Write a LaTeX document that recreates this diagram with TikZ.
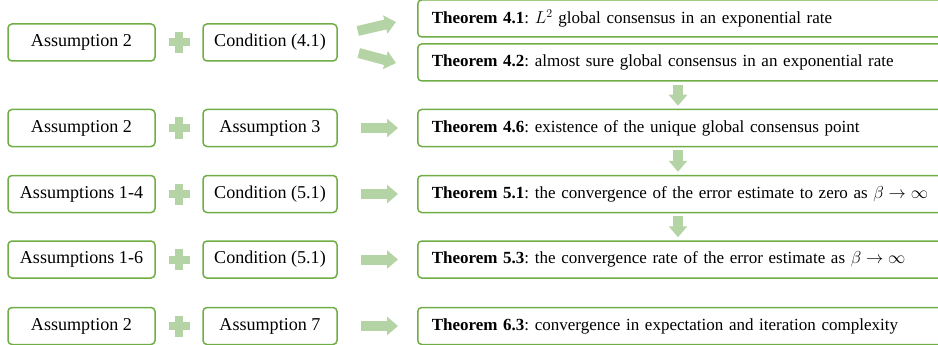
\documentclass[tikz,border=0pt]{standalone}
\usepackage{fontspec}
\setmainfont{Liberation Serif}
\usetikzlibrary{arrows.meta, positioning, calc}
\definecolor{bgreen}{HTML}{70AD47}
\definecolor{bpale}{HTML}{B4D4A6}

\tikzset{
  condbox/.style={draw=bgreen, line width=1.5pt, rounded corners=4pt, minimum height=37pt,
    inner sep=0pt, font=\fontsize{18.1}{20}\selectfont\frenchspacing},
  thmbox/.style={condbox, anchor=west, minimum width=560pt, text width=532pt, align=left, inner xsep=14pt,
    font=\fontsize{17}{20}\selectfont\frenchspacing},
  fatarrow/.style={draw=bpale, line width=10pt, -{Triangle[length=11pt, width=18pt]}},
}
\newcommand{\thm}[2]{\mbox{\textbf{Theorem #1}: #2}}

\begin{document}
\begin{tikzpicture}[x=1pt, y=-1pt]
  \useasboundingbox (0,0) rectangle (938,345);

  %% Left column: assumptions and conditions
  \foreach \r/\y/\la/\lc in {
    1/42.5/{Assumption 2}/{Condition (4.1)},
    2/128/{Assumption 2}/{Assumption 3},
    3/194/{Assumptions 1-4}/{Condition (5.1)},
    4/259.5/{Assumptions 1-6}/{Condition (5.1)},
    5/326/{Assumption 2}/{Assumption 7}
  }{
    \node[condbox, minimum width=147pt] (a\r) at (81.5,\y) {\la};
    \node[condbox, minimum width=134pt] (c\r) at (270,\y) {\lc};
    \coordinate (p\r) at ($(a\r.east)!0.5!(c\r.west)$);
    \fill[bpale] (p\r) +(-10.5,-4) rectangle +(10.5,4);
    \fill[bpale] (p\r) +(-4,-10.5) rectangle +(4,10.5);
  }

  %% Right column: theorems
  \node[thmbox] (t41) at (417,18.5) {\thm{4.1}{$L^2$ global consensus in an exponential rate}};
  \node[thmbox] (t42) at (417,62.5) {\thm{4.2}{almost sure global consensus in an exponential rate}};
  \node[thmbox] (t46) at (417,128) {\thm{4.6}{existence of the unique global consensus point}};
  \node[thmbox] (t51) at (417,194) {\thm{5.1}{the convergence of the error estimate to zero as $\beta\rightarrow\infty$}};
  \node[thmbox] (t53) at (417,259.5) {\thm{5.3}{the convergence rate of the error estimate as $\beta\rightarrow\infty$}};
  \node[thmbox] (t63) at (417,326) {\thm{6.3}{convergence in expectation and iteration complexity}};

  %% Arrows
  \draw[fatarrow] ([shift={(20,-11.5)}]c1.east) -- ([shift={(-21,3.5)}]t41.west);
  \draw[fatarrow] ([shift={(21,10.5)}]c1.east) -- ([shift={(-21,0.5)}]t42.west);
  \foreach \r/\t in {2/t46, 3/t51, 4/t53, 5/t63}{
    \draw[fatarrow, shorten <=23pt, shorten >=19pt] (c\r.east) -- (\t.west);
  }
  \coordinate (dcol) at (678,0);
  \foreach \s/\t in {t42/t46, t46/t51, t51/t53}{
    \draw[fatarrow, shorten <=3pt, shorten >=3pt] (\s.south -| dcol) -- (\t.north -| dcol);
  }

\end{tikzpicture}
\end{document}
